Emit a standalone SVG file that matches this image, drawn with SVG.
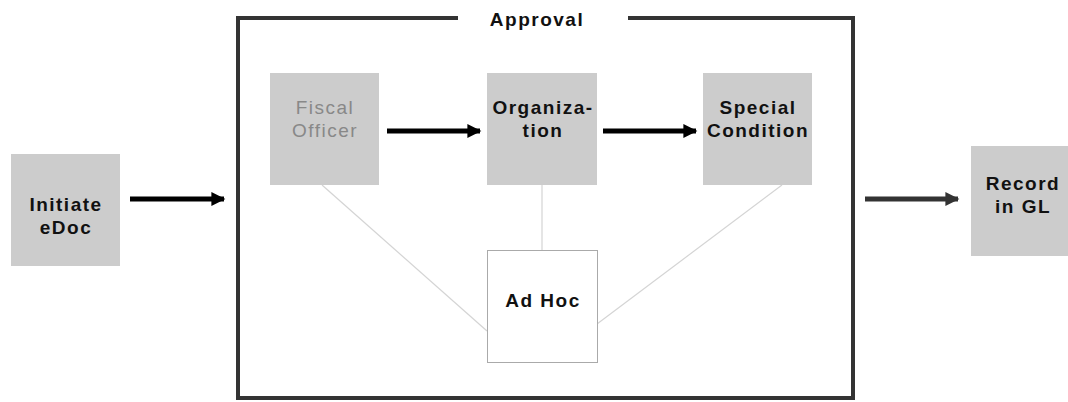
<svg xmlns="http://www.w3.org/2000/svg" width="1068" height="402" viewBox="0 0 1068 402">
<style>
text{font-family:"Liberation Sans",Arial,sans-serif;font-size:19px;font-weight:bold;fill:#111;text-anchor:middle;letter-spacing:1.5px}
.box{fill:#cccccc}
.thin{stroke:#d4d4d4;stroke-width:1.2;fill:none}
.arr{stroke:#000;stroke-width:5;fill:none}
.arr2{stroke:#333;stroke-width:5;fill:none}
.frame{stroke:#333;stroke-width:4;fill:none}
.grey{fill:#888;font-weight:normal}
</style>
<defs>
<marker id="ah" viewBox="0 0 10 10" refX="9" refY="5" markerWidth="4.4" markerHeight="2.8" orient="auto" markerUnits="strokeWidth"><path d="M0,0 L10,5 L0,10 Z" fill="#000"/></marker>
<marker id="ah2" viewBox="0 0 10 10" refX="9" refY="5" markerWidth="4.4" markerHeight="2.8" orient="auto" markerUnits="strokeWidth"><path d="M0,0 L10,5 L0,10 Z" fill="#333"/></marker>
</defs>
<rect width="1068" height="402" fill="#fff"/>
<g id="approval">
<path class="frame" d="M458,18 H238 V398 H853 V18 H628"/>
<text x="537" y="26">Approval</text>
</g>
<g id="connectors">
<line class="arr" x1="130" y1="199" x2="224" y2="199" marker-end="url(#ah)"/>
<line class="arr" x1="387" y1="131" x2="480" y2="131" marker-end="url(#ah)"/>
<line class="arr" x1="603" y1="131" x2="696" y2="131" marker-end="url(#ah)"/>
<line class="arr2" x1="865" y1="199" x2="958" y2="199" marker-end="url(#ah2)"/>
<line class="thin" x1="322" y1="185" x2="487" y2="331"/>
<line class="thin" x1="542" y1="185" x2="542" y2="250"/>
<line class="thin" x1="782" y1="185" x2="597" y2="324"/>
</g>
<g id="initiate">
<rect class="box" x="11" y="154" width="109" height="112"/>
<text x="66" y="211">Initiate</text>
<text x="66" y="234">eDoc</text>
</g>
<g id="fiscal">
<rect class="box" x="270" y="73" width="109" height="112"/>
<text class="grey" x="325" y="114">Fiscal</text>
<text class="grey" x="325" y="137">Officer</text>
</g>
<g id="organization">
<rect class="box" x="487" y="73" width="110" height="112"/>
<text x="543" y="114">Organiza-</text>
<text x="543" y="137">tion</text>
</g>
<g id="special">
<rect class="box" x="703" y="73" width="109" height="112"/>
<text x="758" y="114">Special</text>
<text x="758" y="137">Condition</text>
</g>
<g id="adhoc">
<rect x="487.5" y="250.5" width="110" height="112" fill="#fff" stroke="#aaa" stroke-width="1"/>
<text x="543" y="307">Ad Hoc</text>
</g>
<g id="record">
<rect class="box" x="971" y="146" width="109" height="110"/>
<text x="1023" y="190">Record</text>
<text x="1023" y="213">in GL</text>
</g>
</svg>
